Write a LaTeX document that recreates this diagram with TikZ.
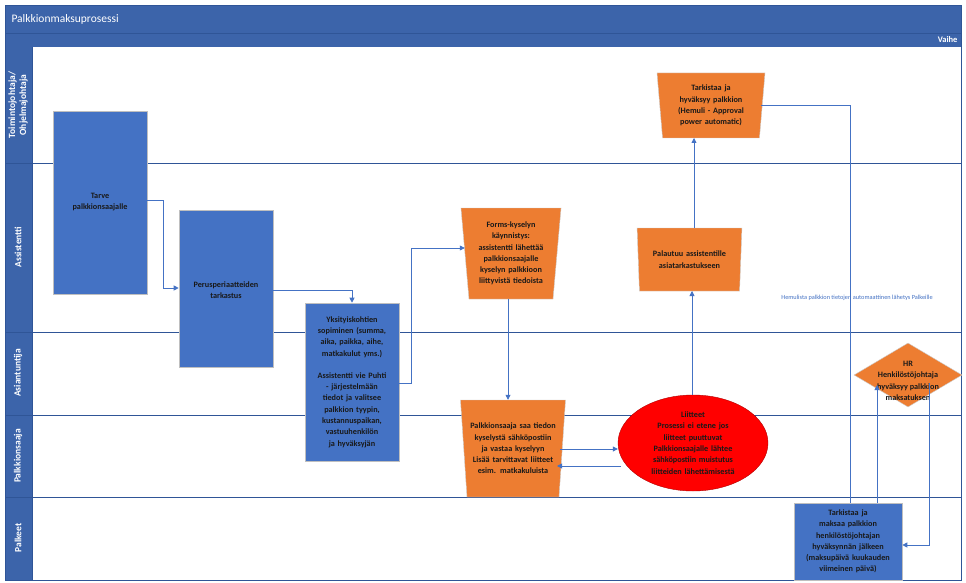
\documentclass[tikz,border=0pt]{standalone}
\usepackage{fontspec}
\setmainfont{Carlito}
\usetikzlibrary{shapes.geometric,arrows.meta}
\definecolor{hdr}{HTML}{3C64AA}
\definecolor{lane}{HTML}{2F5597}
\definecolor{boxb}{HTML}{4472C4}
\definecolor{orng}{HTML}{ED7D31}
\newcommand{\myfnt}{\fontsize{8.2}{11.3}\selectfont\bfseries\hyphenpenalty=10000\relax\exhyphenpenalty=10000\relax}
\begin{document}
\begin{tikzpicture}[x=1pt,y=-1pt,
  txt/.style={font=\myfnt,align=center,text=black!90},
  bbox/.style={draw=gray!50,fill=boxb,line width=0.6pt,txt,inner sep=0pt},
  trap/.style={trapezium,trapezium left angle=83,trapezium right angle=83,shape border rotate=180,draw=gray!40,fill=orng,txt,inner sep=1pt,trapezium stretches=true},
  conn/.style={draw=boxb,line width=0.8pt,-{Triangle[width=5pt,length=5pt]}},
  lbl/.style={rotate=90,text=white,font=\fontsize{9.5}{11}\selectfont\bfseries,align=center}]
\useasboundingbox (0,0) rectangle (966,583);
\fill[white] (0,0) rectangle (966,583);
% frame
\fill[hdr] (5,5) rectangle (961,47);
\draw[lane,line width=0.6pt] (5,33) -- (961,33);
\node[anchor=west,text=white,font=\fontsize{11.5}{13}\selectfont] (title) at (8,19) {Palkkionmaksuprosessi};
\node[anchor=east,text=white,font=\fontsize{8.5}{9}\selectfont\bfseries] (vaihe) at (961,40) {Vaihe};
\fill[hdr] (5,47) rectangle (32,580);
\foreach \y in {163,332,415,497} {\draw[lane,line width=0.8pt] (5,\y) -- (961,\y);}
\draw[lane,line width=0.8pt] (5,5) rectangle (961,580);
\draw[lane,line width=0.8pt] (32,47) -- (32,580);
\node[lbl] (l1) at (18,105) {Toimintojohtaja/\\Ohjelmajohtaja};
\node[lbl] (l2) at (18,247) {Assistentti};
\node[lbl] (l3) at (18,373) {Asiantuntija};
\node[lbl] (l4) at (18,456) {Palkkionsaaja};
\node[lbl] (l5) at (18,538) {Palkeet};
% boxes
\node[bbox,minimum width=94pt,minimum height=183pt] (tarve) at (100,202.5) {};
\node[txt] at (100,202) {Tarve\\palkkionsaajalle};
\node[bbox,minimum width=94pt,minimum height=157pt] (perus) at (226,288.5) {};
\node[txt] at (226,290) {Perusperiaatteiden\\tarkastus};
\node[bbox,minimum width=94pt,minimum height=158pt,text width=78pt] (yks) at (352,382) {Yksityiskohtien sopiminen (summa, aika, paikka, aihe, matkakulut yms.)\\[11pt]Assistentti vie Puhti - järjestelmään tiedot ja valitsee palkkion tyypin, kustannuspaikan, vastuuhenkilön ja hyväksyjän};
\node[trap,minimum width=97pt,minimum height=91pt,text width=82pt] (forms) at (511,253.5) {Forms-kyselyn käynnistys:\\assistentti lähettää palkkionsaajalle kyselyn palkkioon liittyvistä tiedoista};
\node[trap,minimum width=100pt,minimum height=97pt,text width=90pt] (saaja) at (513,448.5) {Palkkionsaaja saa tiedon kyselystä sähköpostiin ja vastaa kyselyyn\\Lisää tarvittavat liitteet esim. matkakuluista};
\node[ellipse,draw=red!70!black,fill=red,minimum width=150pt,minimum height=96pt,inner sep=0pt] (liit) at (693,443) {};
\node[txt,text width=110pt] at (693,443) {Liitteet\\Prosessi ei etene jos liitteet puuttuvat\\Palkkionsaajalle lähtee sähköpostiin muistutus liitteiden lähettämisestä};
\node[trap,minimum width=105pt,minimum height=63pt,text width=98pt] (pal) at (689.5,259.5) {Palautuu assistentille asiatarkastukseen\\[8pt]};
\node[trap,minimum width=108pt,minimum height=65pt,text width=90pt] (tark) at (711,105.5) {Tarkistaa ja hyväksyy palkkion\\(Hemuli - Approval power automatic)};
\node[diamond,draw=gray!40,fill=orng,txt,minimum width=108pt,minimum height=64pt,inner sep=0pt,aspect=1.7] (hr) at (908,375) {};
\node[txt] at (908,381) {HR\\Henkilöstöjohtaja\\hyväksyy palkkion\\maksatuksen};
\node[bbox,minimum width=108pt,minimum height=77pt,text width=90pt] (palk) at (848,541.5) {Tarkistaa ja maksaa palkkion henkilöstöjohtajan hyväksynnän jälkeen (maksupäivä kuukauden viimeinen päivä)};
% connectors
\draw[conn] (tarve.east |- 0,200) -| (163,288) -- (perus.west |- 0,288);
\draw[conn] (perus.east |- 0,290) -| (yks.north -| 352,0);
\draw[conn] (yks.east |- 0,383) -| (411,248) -- (forms.west |- 0,248);
\draw[conn] (508,299) -- (saaja.north -| 508,0);
\draw[conn] (560,449) -- (liit.west |- 0,449);
\draw[conn] (liit.west |- 0,466) ++(3,0) -- (557,466);
\draw[conn] (liit.north -| 692,0) -- (692,291);
\draw[conn] (pal.north -| 694,0) -- (694,138);
\draw[draw=boxb,line width=0.8pt] (761,105) -| (850,503);
\node[text=boxb,font=\fontsize{6.3}{7}\selectfont,anchor=center] (hem) at (857,298) {Hemulista palkkion tietojen automaattinen lähetys Palkeille};
\draw[conn] (877,503) -- (877,385);
\draw[conn] (929,383) |- (palk.east |- 0,545);
\end{tikzpicture}
\end{document}
